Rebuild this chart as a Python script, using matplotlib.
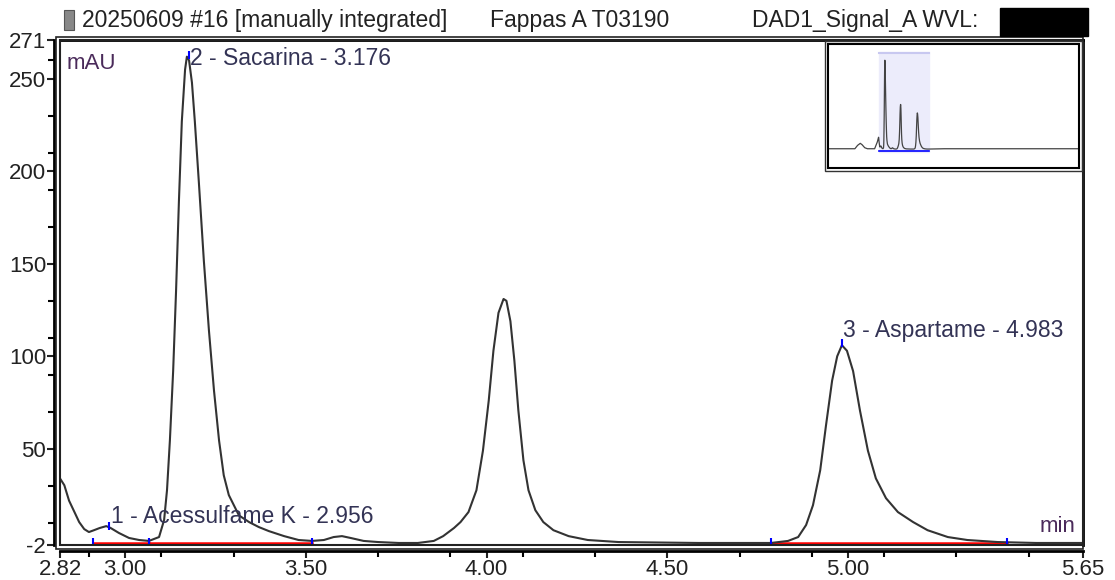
import matplotlib
matplotlib.use("Agg")
import matplotlib.pyplot as plt
from matplotlib.patches import Rectangle

plt.rcParams['font.family'] = ['Liberation Sans', 'DejaVu Sans']
plt.rcParams['axes.unicode_minus'] = False

# cromatograma (min, mAU)
tiempo = [2.82, 2.832, 2.845, 2.86, 2.873, 2.887, 2.90, 2.914, 2.93, 2.948, 2.96, 2.983,
          3.011, 3.039, 3.066, 3.094, 3.108, 3.116, 3.124, 3.133, 3.141, 3.149, 3.157,
          3.166, 3.171, 3.177, 3.185, 3.193, 3.204, 3.218, 3.232, 3.246, 3.26, 3.273,
          3.287, 3.315, 3.343, 3.37, 3.398, 3.44, 3.48, 3.517, 3.55, 3.577, 3.60, 3.624,
          3.66, 3.70, 3.757, 3.81, 3.854, 3.88, 3.91, 3.928, 3.95, 3.972, 3.99, 4.006,
          4.019, 4.033, 4.047, 4.055, 4.066, 4.077, 4.088, 4.102, 4.116, 4.135, 4.157,
          4.185, 4.227, 4.28, 4.365, 4.586, 4.787, 4.834, 4.862, 4.884, 4.903, 4.923,
          4.939, 4.956, 4.97, 4.983, 4.997, 5.014, 5.033, 5.055, 5.077, 5.105, 5.138,
          5.18, 5.22, 5.276, 5.33, 5.414, 5.52, 5.65]
senal = [34, 30.3, 22, 15.8, 10.4, 6.6, 5, 6, 7.2, 8.2, 7.2, 4.5,
         1.8, 0.7, 0.2, 2.3, 11.5, 27.6, 54.5, 92, 135, 184, 227,
         255, 262, 260, 248, 227, 194.5, 151.5, 114, 81.5, 54.5, 35.7,
         25, 14, 10.4, 7.7, 5.5, 2.8, 0.7, 0.2, 0.7, 2.3, 2.8, 1.8,
         0.2, -0.4, -0.9, -0.9, 0.2, 2.8, 7.2, 10.4, 15.8, 27.6, 49, 76,
         103, 123.5, 131, 130, 119, 97.6, 70.7, 43.8, 27.6, 16.8, 10.4,
         6, 2.8, 0.7, -0.4, -0.9, -0.9, 0.2, 2.3, 8.8, 19.5, 38.4,
         62.6, 86.9, 100, 106, 103, 92, 70.7, 49, 34, 23.3, 15.8,
         10.4, 6, 2.3, 0.7, -0.4, -0.9, -0.9]

# picos integrados
picos_nombre = ['1 - Acessulfame K - 2.956', '2 - Sacarina - 3.176', '3 - Aspartame - 4.983']
picos_t = [2.956, 3.176, 4.983]
picos_h = [8.2, 263, 107]
# lineas base (inicio, fin)
base_ini = [2.91, 3.066, 4.787]
base_fin = [3.066, 3.517, 5.44]
base_nivel = -1

# vista completa de la corrida (inset)
pre_t = [0, 1.5, 1.65, 1.8, 1.9, 2.05, 2.2, 2.6, 2.75]
pre_v = [0, 0, 10, 16, 12, 3, 0, 0, 20]
post_t = [6.5, 9, 14]
post_v = [0, 0, 0]

xticks = [2.82, 3.00, 3.50, 4.00, 4.50, 5.00, 5.65]
xminor = [2.9, 3.1, 3.3, 3.7, 3.9, 4.1, 4.3, 4.7, 4.9, 5.1, 5.3, 5.5]
yticks = [-2, 50, 100, 150, 200, 250, 271]
yminor = [10, 30, 70, 90, 110, 130, 170, 190, 210, 230, 260]

W, H = 1115, 580
fig = plt.figure(figsize=(W / 100, H / 100), dpi=100)
ax = fig.add_axes([60 / W, 1 - 545 / H, (1083 - 60) / W, (545 - 40) / H])

# trazado principal
ax.plot(tiempo, senal, color='#333333', lw=1.5, zorder=3)
for a, b in zip(base_ini, base_fin):
    ax.plot([a, b], [base_nivel, base_nivel], color='red', lw=1.8, zorder=2)
for x in base_ini + base_fin:
    ax.plot([x], [base_nivel], marker='|', ms=7, color='blue', mew=1.5, zorder=4)
desp = [5, -2, 7]
for n, t, h, d in zip(picos_nombre, picos_t, picos_h, desp):
    ax.plot([t], [h], marker='|', ms=6, color='blue', mew=1.5, zorder=4)
    ax.text(t + 0.004, h + d, n, fontsize=16.5, color='#333355', va='center', ha='left', zorder=5)

ax.text(0.006, 0.975, 'mAU', transform=ax.transAxes, fontsize=16, color='#4a2a5a',
        va='top', ha='left')
ax.text(0.993, 0.015, 'min', transform=ax.transAxes, fontsize=16, color='#4a2a5a',
        va='bottom', ha='right')

ax.set_xlim(2.82, 5.65)
ax.set_ylim(-2, 271)
ax.set_xticks(xticks)
ax.set_xticklabels(['%.2f' % v for v in xticks])
ax.set_xticks(xminor, minor=True)
ax.set_yticks(yticks)
ax.set_yticks(yminor, minor=True)
ax.tick_params(labelsize=16, colors='#222222', length=5, width=1.5, pad=1)
ax.tick_params(which='minor', length=4, width=1.5)

# marco doble
for s in ['left', 'bottom']:
    ax.spines[s].set_position(('outward', 4))
    ax.spines[s].set_linewidth(2)
ax.spines['top'].set_linewidth(2)
ax.spines['right'].set_linewidth(2)
ax.add_patch(Rectangle((0, 0), 1, 1, transform=ax.transAxes, fill=False,
                       lw=1.5, ec='#222222', clip_on=False, zorder=6))
fig.add_artist(Rectangle((56 / W, 1 - 549 / H), (1083 - 56) / W, (549 - 37) / H,
                         fill=False, lw=1.2, ec='#222222', transform=fig.transFigure))

# encabezado
fig.add_artist(Rectangle((64 / W, 1 - 30 / H), 10 / W, 20 / H, fc='#888888', ec='#555555',
                         lw=0.8, transform=fig.transFigure))
fig.text(82 / W, 1 - 20 / H, '20250609 #16 [manually integrated]', fontsize=16.5,
         color='#222222', va='center', ha='left')
fig.text(490 / W, 1 - 20 / H, 'Fappas A T03190', fontsize=16.5, color='#222222',
         va='center', ha='left')
fig.text(752 / W, 1 - 20 / H, 'DAD1_Signal_A WVL:', fontsize=16.5, color='#222222',
         va='center', ha='left')
fig.add_artist(Rectangle((1000 / W, 1 - 36 / H), 88 / W, 28 / H, fc='black', ec='black',
                         transform=fig.transFigure, zorder=10))

# inset con la corrida completa
ins = fig.add_axes([828 / W, 1 - 168 / H, (1079 - 828) / W, (168 - 44) / H])
ins.plot(pre_t + tiempo + post_t, pre_v + senal + post_v, color='#444444', lw=0.9)
ins.axvspan(2.82, 5.65, ymin=0.13, ymax=0.935, color='#ececfb', zorder=0)
ins.plot([2.82, 5.65], [-8, -8], color='blue', lw=1.2)
ins.plot([2.82, 5.65], [283, 283], color='#c8c8f0', lw=1.5)
ins.set_xlim(0, 14)
ins.set_ylim(-57, 310)
ins.set_xticks([])
ins.set_yticks([])
for s in ins.spines.values():
    s.set_linewidth(1.5)
fig.add_artist(Rectangle((825 / W, 1 - 171 / H), (1082 - 825) / W, (171 - 41) / H,
                         fill=False, lw=1.0, ec='#333333', transform=fig.transFigure))

fig.savefig('out.png', dpi=100)
